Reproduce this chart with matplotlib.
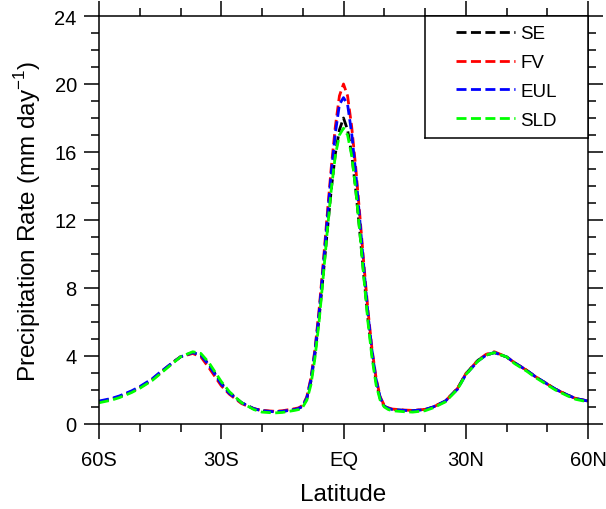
import matplotlib
matplotlib.use('Agg')
import matplotlib.pyplot as plt
from matplotlib.ticker import MultipleLocator

# zonal mean precipitation
LAT = [-60, -57, -55, -52, -50, -47, -45, -42, -40, -37, -35, -33, -30, -28, -25, -22, -20, -17, -15, -12,
       -11, -10, -9, -8, -7, -6, -5, -4, -3, -2, -1, 0, 1, 2, 3, 4, 5, 6, 7, 8, 9, 10, 11,
       12, 15, 17, 20, 22, 25, 28, 30, 33, 35, 37, 40, 42, 45, 47, 50, 52, 55, 57, 60]

SE = [1.3, 1.45, 1.6, 1.9, 2.15, 2.6, 3.0, 3.6, 3.95, 4.2, 4.05, 3.5, 2.4, 1.85, 1.25, 0.9, 0.78, 0.72, 0.74, 0.85,
      0.92, 1.05, 1.5, 2.5, 4.1, 6.2, 8.7, 11.3, 13.8, 15.9, 17.3, 18.0, 17.3, 15.9, 13.8, 11.3, 8.7, 6.2, 4.1, 2.5, 1.5, 1.05, 0.92,
      0.85, 0.8, 0.78, 0.85, 1.0, 1.35, 2.1, 2.95, 3.75, 4.05, 4.2, 3.95, 3.6, 3.15, 2.8, 2.35, 2.05, 1.7, 1.5, 1.35]

FV = [1.3, 1.45, 1.6, 1.9, 2.15, 2.6, 3.0, 3.6, 3.95, 4.15, 3.95, 3.3, 2.25, 1.75, 1.2, 0.9, 0.8, 0.75, 0.78, 0.9,
      0.95, 1.1, 1.6, 2.7, 4.4, 6.7, 9.4, 12.3, 15.1, 17.5, 19.3, 20.0, 19.3, 17.5, 15.1, 12.3, 9.4, 6.7, 4.4, 2.7, 1.6, 1.1, 0.95,
      0.88, 0.82, 0.8, 0.86, 1.0, 1.35, 2.1, 2.95, 3.75, 4.1, 4.25, 3.95, 3.6, 3.15, 2.8, 2.35, 2.05, 1.7, 1.5, 1.35]

EUL = [1.35, 1.5, 1.65, 1.95, 2.2, 2.65, 3.05, 3.6, 3.95, 4.2, 4.05, 3.45, 2.35, 1.8, 1.25, 0.9, 0.78, 0.72, 0.75, 0.85,
       0.92, 1.05, 1.55, 2.6, 4.3, 6.5, 9.2, 12.0, 14.8, 17.1, 18.8, 19.2, 18.8, 17.1, 14.8, 12.0, 9.2, 6.5, 4.3, 2.6, 1.55, 1.05, 0.92,
       0.85, 0.8, 0.78, 0.85, 1.0, 1.35, 2.05, 2.9, 3.7, 4.05, 4.2, 3.95, 3.6, 3.15, 2.8, 2.35, 2.05, 1.7, 1.5, 1.35]

SLD = [1.25, 1.4, 1.55, 1.85, 2.1, 2.55, 2.95, 3.55, 3.95, 4.25, 4.15, 3.6, 2.5, 1.9, 1.25, 0.85, 0.7, 0.65, 0.68, 0.8,
       0.85, 1.0, 1.4, 2.3, 3.9, 6.0, 8.6, 11.3, 13.8, 15.8, 17.0, 17.4, 17.0, 15.8, 13.8, 11.3, 8.6, 6.0, 3.9, 2.3, 1.4, 1.0, 0.85,
       0.78, 0.72, 0.7, 0.78, 0.95, 1.3, 2.05, 2.9, 3.7, 4.05, 4.2, 3.95, 3.55, 3.1, 2.75, 2.3, 2.0, 1.65, 1.45, 1.3]

SERIES = [('SE', SE, '#000000'), ('FV', FV, '#ff0000'), ('EUL', EUL, '#0000ff'), ('SLD', SLD, '#00ff00')]

XTICKS = [-60, -30, 0, 30, 60]
XLABELS = ['60S', '30S', 'EQ', '30N', '60N']
YTICKS = [0, 4, 8, 12, 16, 20, 24]

plt.rcParams['font.family'] = ['Liberation Sans', 'DejaVu Sans']
plt.rcParams['mathtext.fontset'] = 'custom'
plt.rcParams['mathtext.rm'] = 'Liberation Sans'

fig = plt.figure(figsize=(6.06, 5.10), dpi=100)
ax = fig.add_axes([99 / 606, 85 / 510, 489 / 606, 408 / 510])

handles = []
for name, vals, col in SERIES:
    line, = ax.plot(LAT, vals, color=col, lw=2.0, dashes=(3.6, 1.6), label=name)
    handles.append(line)

ax.set_xlim(-60, 60)
ax.set_ylim(0, 24)
ax.set_xticks(XTICKS)
ax.set_xticklabels(XLABELS)
ax.set_yticks(YTICKS)
ax.xaxis.set_minor_locator(MultipleLocator(10))
ax.yaxis.set_minor_locator(MultipleLocator(1))
ax.tick_params(which='both', direction='out', top=True, right=True, width=1.1, labelsize=14.5)
ax.tick_params(which='major', length=11, pad=5)
ax.tick_params(which='minor', length=6)
ax.tick_params(axis='x', which='major', pad=8)
for s in ax.spines.values():
    s.set_linewidth(1.1)

ax.set_xlabel('Latitude', fontsize=17.5, labelpad=10)
ax.set_ylabel('Precipitation Rate (mm day$^{\\mathregular{-1}}$)', fontsize=17.5, labelpad=8)

# legend sits in its own box glued to the upper right corner
lax = ax.inset_axes([326 / 489, 1 - 122 / 408, 163 / 489, 122 / 408])
lax.set_xticks([])
lax.set_yticks([])
for s in lax.spines.values():
    s.set_linewidth(1.1)
lax.patch.set_facecolor('white')
lax.legend(handles, [h.get_label() for h in handles], loc='center', frameon=False,
           fontsize=13.5, handlelength=3.1, handletextpad=0.3, labelspacing=0.62)

fig.savefig('out.png', dpi=100)
